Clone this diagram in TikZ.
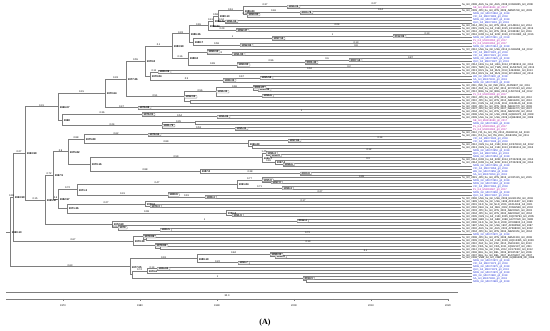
\documentclass[tikz,border=0pt]{standalone}
\usepackage{fontspec}
\setmainfont{Liberation Sans}
\newfontfamily\serifA{Liberation Serif}
\usetikzlibrary{calc}
\pgfdeclarelayer{fg}
\pgfsetlayers{main,fg}
\definecolor{brc}{HTML}{7E7E7E}
\definecolor{tipb}{HTML}{2233D6}
\definecolor{tipp}{HTML}{B01CA8}
\tikzset{
 br/.style={draw=brc, line width=0.7pt},
 pp/.style={font=\fontsize{2.5}{2.7}\selectfont, inner sep=0.2pt, anchor=south, text=black},
 dbox/.style={draw=brc, fill=white, line width=0.4pt, rounded corners=0.5pt, font=\fontsize{2.7}{2.9}\selectfont\bfseries, inner xsep=1.5pt, inner ysep=0.3pt, anchor=west, text=black},
 dtx/.style={font=\fontsize{2.7}{2.9}\selectfont\bfseries, inner sep=0.3pt, anchor=west, xshift=1.3pt, yshift=-0.6pt, text=black},
 dno/.style={inner sep=0pt},
 tipk/.style={font=\fontsize{2.6}{2.8}\selectfont, anchor=west, inner sep=0.3pt, xshift=0.6pt, text=black},
 tipl/.style={font=\fontsize{2.6}{2.8}\selectfont, anchor=west, inner sep=0.3pt, xshift=0.6pt},
 axl/.style={font=\fontsize{2.5}{2.7}\selectfont, text=black}
}
\newcommand\TN[8]{%
  \path let \p1=($(#3)!0.5!(#4)$) in coordinate (#1) at (#2pt,\y1);
  \draw[br] (#1) |- node[pp,pos=0.75]{#5} (#3);
  \draw[br] (#1) |- node[pp,pos=0.75]{#6} (#4);
  \begin{pgfonlayer}{fg}\node[#7] at (#1) {#8};\end{pgfonlayer}%
}
\newcommand\TK[4]{%
  \coordinate (t#1) at (461,{5+2.98*(#1-1)});
  \node[tipk] at (t#1) {hu\_GII\_#2\_#3\_hu\_GII\_#3\_#2\_#4\_GII\_#2};%
}
\newcommand\TB[5]{%
  \coordinate (t#1) at (472,{5+2.98*(#1-1)});
  \node[tipl,text=#2] at (t#1) {#3\_GII\_#4\_gII\_#5};%
}
\begin{document}
\begin{tikzpicture}[x=1pt,y=-1pt]
\useasboundingbox (0,0) rectangle (550,331);
% ---------- tips ----------
\TK{1}{2008}{AUS}{KX689455}
\TB{2}{tipp}{SE}{MH218644}{2017}
\TK{3}{2009}{JPN}{AB585740}
\TB{4}{tipb}{NSW}{MK073894}{2018}
\TB{5}{tipb}{VIC}{MK073895}{2018}
\TB{6}{tipb}{NSW}{MK073897}{2018}
\TB{7}{tipb}{QLD}{MK073901}{2018}
\TK{8}{2014}{JPN}{LC145814}
\TK{9}{2015}{CHN}{KX119361}
\TK{10}{2016}{JPN}{LC185382}
\TK{11}{2016}{KOR}{KY210980}
\TB{12}{tipb}{NSW}{MK073911}{2018}
\TB{13}{tipp}{PL}{MH218650}{2017}
\TB{14}{tipp}{PL}{MH218652}{2017}
\TB{15}{tipb}{NSW}{MK073914}{2018}
\TK{16}{2012}{USA}{KJ196298}
\TB{17}{tipb}{VIC}{MK073920}{2018}
\TB{18}{tipb}{VIC}{MK073921}{2018}
\TB{19}{tipb}{NSW}{MK073925}{2018}
\TB{20}{tipb}{QLD}{MK073927}{2018}
\TK{21}{2014}{HKG}{KT380915}
\TK{22}{2015}{TWN}{KU557823}
\TK{23}{2013}{RUS}{KJ645691}
\TK{24}{2014}{RUS}{KP128542}
\TB{25}{tipb}{WA}{MK073930}{2018}
\TB{26}{tipb}{SA}{MK073931}{2018}
\TB{27}{tipb}{NSW}{MK073933}{2018}
\TK{28}{2011}{IND}{JX459907}
\TK{29}{2012}{ZAF}{KF767243}
\TK{30}{2012}{BRA}{KJ507419}
\TB{31}{tipp}{PL}{MH218655}{2017}
\TK{32}{2010}{JPN}{AB818400}
\TK{33}{2010}{JPN}{AB818401}
\TK{34}{2011}{CHN}{JX445146}
\TK{35}{2006}{JPN}{AB434770}
\TK{36}{2007}{JPN}{AB434771}
\TK{37}{2004}{JPN}{AB290150}
\TK{38}{2008}{USA}{GQ845370}
\TK{39}{2009}{USA}{HQ664990}
\TB{40}{tipp}{SE}{MH218660}{2017}
\TB{41}{tipb}{NSW}{MK073940}{2018}
\TB{42}{tipp}{PL}{MH218662}{2017}
\TB{43}{tipp}{PL}{MH218663}{2017}
\TK{44}{2010}{ITA}{JN183158}
\TK{45}{2011}{ITA}{JN183159}
\TB{46}{tipb}{VIC}{MK073945}{2018}
\TB{47}{tipb}{VIC}{MK073946}{2018}
\TK{48}{2012}{CHN}{KC576910}
\TK{49}{2013}{CHN}{KF306212}
\TB{50}{tipb}{NSW}{MK073950}{2018}
\TB{51}{tipb}{QLD}{MK073951}{2018}
\TB{52}{tipb}{NSW}{MK073953}{2018}
\TK{53}{2014}{KOR}{KT222938}
\TK{54}{2014}{KOR}{KT222939}
\TB{55}{tipb}{NSW}{MK073955}{2018}
\TB{56}{tipb}{VIC}{MK073956}{2018}
\TB{57}{tipb}{WA}{MK073958}{2018}
\TB{58}{tipb}{SA}{MK073959}{2018}
\TK{59}{2015}{JPN}{LC037415}
\TB{60}{tipb}{NSW}{MK073961}{2018}
\TB{61}{tipb}{NSW}{MK073962}{2018}
\TB{62}{tipb}{VIC}{MK073964}{2018}
\TB{63}{tipp}{PL}{MH218667}{2017}
\TB{64}{tipb}{NSW}{MK073966}{2018}
\TB{65}{tipb}{QLD}{MK073967}{2018}
\TK{66}{2006}{USA}{EU921353}
\TK{67}{1999}{USA}{AF414407}
\TK{68}{2001}{NLD}{AF414418}
\TK{69}{2002}{DEU}{AY682548}
\TK{70}{2003}{JPN}{AB220921}
\TK{71}{2004}{JPN}{AB220922}
\TK{72}{2005}{CHN}{DQ078794}
\TK{73}{1998}{GBR}{AJ277620}
\TK{74}{2000}{NLD}{AY038600}
\TK{75}{1997}{USA}{AF080558}
\TK{76}{2002}{AUS}{AY588030}
\TK{77}{2004}{JPN}{AB290151}
\TB{78}{tipb}{NSW}{MK073970}{2018}
\TK{79}{2008}{JPN}{AB541319}
\TK{80}{2009}{CHN}{HQ113385}
\TK{81}{2010}{ZAF}{JN191360}
\TK{82}{2011}{FRA}{JQ622197}
\TK{83}{2012}{FRA}{KC175323}
\TK{84}{2006}{BEL}{EF187497}
\TK{85}{2007}{BEL}{EU078407}
\TK{86}{2008}{VNM}{GQ856469}
\TB{87}{tipb}{NSW}{MK073972}{2018}
\TB{88}{tipb}{VIC}{MK073973}{2018}
\TB{89}{tipb}{NSW}{MK073975}{2018}
\TB{90}{tipb}{QLD}{MK073976}{2018}
\TB{91}{tipb}{NSW}{MK073978}{2018}
\TB{92}{tipb}{WA}{MK073980}{2018}
\TB{93}{tipb}{SA}{MK073981}{2018}
\TB{94}{tipb}{NSW}{MK073983}{2018}
% ---------- group 1 ----------
\TN{a1}{287}{t1}{t2}{0.27}{}{dbox}{1999.09}
\TN{a2}{300}{t3}{t4}{0.14}{}{dbox}{2000.78}
\TN{a3}{247}{a2}{t5}{0.46}{}{dbox}{1993.90}
\TN{a4}{243}{a1}{a3}{0.37}{0.14}{dtx}{1986.83}
\TN{a5}{225}{t6}{t7}{}{}{dbox}{1991.04}
\TN{a6}{218}{a4}{a5}{0.61}{0.04}{dtx}{1990.13}
\TN{a7}{213}{a6}{t8}{0.58}{0.04}{dtx}{1989.74}
\TN{a8}{236}{t9}{t10}{}{}{dbox}{1992.47}
\TN{a9}{208}{a7}{a8}{0.41}{0.29}{dtx}{1988.84}
\TN{b1}{393}{t11}{t12}{0.13}{}{dbox}{2012.86}
\TN{b2}{272}{b1}{t13}{1}{}{dbox}{1997.14}
\TN{b3}{240}{t14}{t15}{0.13}{0.8}{dbox}{1992.84}
\TN{b4}{193}{b2}{b3}{1}{0.58}{dtx}{1988.7}
\TN{c0}{189}{a9}{b4}{0.65}{}{dtx}{1986.36}
\TN{d1}{232}{t17}{t18}{}{}{dbox}{1991.95}
\TN{d2}{207}{t16}{d1}{}{0.13}{dbox}{1990.13}
\TN{d3}{349}{t19}{t20}{0.87}{}{dbox}{2007.14}
\TN{d4}{305}{d3}{t21}{0.6}{}{dbox}{2001.43}
\TN{d5}{237}{d4}{t22}{0.96}{0.2}{dbox}{1993.93}
\TN{d6}{188}{d2}{d5}{}{0.99}{dtx}{1988.8}
\TN{e0}{172}{c0}{d6}{0.33}{0.16}{dtx}{1983.99}
\TN{f1}{158}{t23}{t24}{0.52}{}{dbox}{1983.09}
\TN{f2}{260}{t25}{t26}{}{}{dbox}{1995.58}
\TN{f3}{223}{f2}{t27}{0.67}{}{dbox}{1989.33}
\TN{f4}{150}{f1}{f3}{0.11}{0.5}{dtx}{1979.84}
\TN{g0}{145}{e0}{f4}{0.1}{}{dtx}{1979.8}
% ---------- group 2 ----------
\TN{h1}{258}{t29}{t30}{}{}{dbox}{1995.32}
\TN{h2}{253}{t28}{h1}{}{}{dbox}{2001.27}
\TN{h5}{262}{t31}{t32}{}{}{dbox}{1996.6}
\TN{h3}{216}{h2}{h5}{0.96}{}{dbox}{1996.33}
\TN{h6}{190}{t33}{t34}{}{}{dno}{}
\TN{h7}{184}{h3}{h6}{0.56}{}{dbox}{1992.04}
\TN{i1}{138}{t35}{t36}{}{}{dbox}{1976.88}
\TN{j0}{126}{g0}{h7}{0.55}{0.51}{dtx}{1977.26}
\TN{k0}{105}{j0}{i1}{0.33}{0.47}{dtx}{1970.64}
% ---------- group 3 ----------
\TN{l1}{217}{t38}{t39}{}{}{dbox}{1996.86}
\TN{l2}{142}{t37}{l1}{1}{0.54}{dbox}{1976.01}
\TN{l3}{195}{t40}{t41}{}{}{dno}{}
\TN{l4}{235}{t42}{t43}{}{}{dbox}{1995.31}
\TN{l5}{162}{l3}{l4}{0.35}{0.53}{dbox}{1981.79}
\TN{m0}{62}{l2}{l5}{0.36}{0.24}{dtx}{1968}
\TN{n0}{58}{k0}{m0}{0.15}{}{dtx}{1966.07}
% ---------- group 4 ----------
\TN{o1}{148}{t44}{t45}{}{}{dbox}{1978.94}
\TN{o2}{288}{t46}{t47}{0.14}{}{dbox}{1997.84}
\TN{o3}{252}{t48}{t49}{}{}{dno}{}
\TN{o4}{248}{o2}{o3}{}{}{dtx}{1996.89}
\TN{o5}{84}{o1}{o4}{0.62}{0.89}{dtx}{1975.89}
\TN{p1}{270}{t51}{t52}{}{}{dbox}{1996.9}
\TN{p2}{266}{t50}{p1}{0.12}{}{dbox}{1996.4}
\TN{p3}{283}{t54}{t55}{}{}{dbox}{1998.6}
\TN{p4}{275}{t53}{p3}{0.3}{}{dtx}{1997.4}
\TN{p5}{262}{p2}{p4}{1.45}{0.65}{dtx}{1996.7}
\TN{p6}{300}{t57}{t58}{}{}{dbox}{2000.8}
\TN{p7}{200}{t56}{p6}{}{0.38}{dtx}{1987.8}
\TN{p8}{90}{p5}{p7}{0.59}{0.88}{dtx}{1979.16}
\TN{q0}{68}{o5}{p8}{0.88}{}{dtx}{1975.82}
\TN{r1}{271}{t60}{t61}{}{}{dbox}{1997.0}
\TN{r2}{262}{t59}{r1}{0.38}{}{dbox}{1995.8}
\TN{r3}{282}{t62}{t63}{}{}{dbox}{1998.4}
\TN{r4}{237}{r2}{r3}{0.77}{0.71}{dtx}{1991.84}
\TN{r5}{205}{t65}{t66}{}{}{dbox}{1988.4}
\TN{r6}{168}{t64}{r5}{0.27}{0.91}{dbox}{1983.6}
\TN{r7}{77}{r4}{r6}{0.47}{0.31}{dtx}{1971.3}
\TN{s1}{150}{t68}{t69}{}{}{dbox}{1979.3}
\TN{s2}{145}{t67}{s1}{0.17}{}{dtx}{1979.6}
\TN{s3}{232}{t71}{t72}{}{}{dbox}{1991.9}
\TN{s4}{226}{t70}{s3}{}{}{dtx}{1991.2}
\TN{s5}{67}{s2}{s4}{0.27}{0.08}{dtx}{1971.36}
\TN{u0}{58}{r7}{s5}{0.72}{}{dtx}{1982.97}
\TN{v0}{53}{q0}{u0}{0.9}{0.6}{dtx}{1967.5}
\TN{w1}{297}{t73}{t74}{}{}{dbox}{2012.4}
\TN{w2}{160}{t76}{t77}{}{}{dbox}{1983.5}
\TN{w3}{118}{t75}{w2}{}{}{dbox}{1979}
\TN{w4}{112}{w1}{w3}{1}{0.03}{dtx}{1972.69}
\TN{x0}{45}{v0}{w4}{0.72}{}{dtx}{1965.97}
\TN{y0}{25}{n0}{x0}{0.31}{0.15}{dtx}{1963.99}
% ---------- group 5 ----------
\TN{z1}{146}{t79}{t80}{}{}{dno}{}
\TN{z2}{143}{t78}{z1}{0.72}{}{dbox}{1979.86}
\TN{z3}{160}{t82}{t83}{}{}{dno}{}
\TN{z4}{155}{t81}{z3}{0.13}{}{dbox}{1979.84}
\TN{z5}{133}{z2}{z4}{}{}{dtx}{1979.38}
\TN{U0}{13}{y0}{z5}{0.27}{0.67}{dtx}{1963.99}
% ---------- group 6 ----------
\TN{L1}{275}{t85}{t86}{}{}{dbox}{1998.9}
\TN{L2}{270}{t84}{L1}{0.1}{}{dbox}{1998.33}
\TN{L3}{238}{t87}{t88}{}{}{dbox}{1993.7}
\TN{L4}{197}{L2}{L3}{0.84}{0.22}{dtx}{1989.19}
\TN{L5}{157}{t89}{t90}{}{}{dbox}{1984.83}
\TN{L6}{147}{L5}{t91}{0.14}{}{dtx}{1979.6}
\TN{L7}{306}{t93}{t94}{}{}{dno}{}
\TN{L8}{303}{t92}{L7}{}{}{dbox}{2014.1}
\TN{L9}{132}{L6}{L8}{0.74}{1}{dno}{}
\TN{L10}{130}{L4}{L9}{0.18}{}{dtx}{1977.05}
\TN{R0}{10}{U0}{L10}{0.98}{0.63}{dtx}{1960.13}
\coordinate (rootstub) at ($(R0)+(-4,0)$);
\draw[br] (R0) -- (rootstub);
% ---------- scale ----------
\coordinate (sb1) at (6,292); \coordinate (sb2) at (458,292);
\draw[brc, line width=0.9pt] (sb1) -- (sb2);
\node[axl] (sbl) at (227,295.6) {30.0};
\coordinate (ax1) at (6,299); \coordinate (ax2) at (448,299);
\draw[brc, line width=0.7pt] (ax1) -- (ax2);
\foreach \xx/\yy in {63/1970,140/1980,217/1990,294/2000,371/2010,448/2020}{
  \draw[brc, line width=0.5pt] (\xx,299) -- (\xx,300.8);
  \node[axl] at (\xx,305.6) {\yy};
}
\foreach \xx in {25,102,179,256,333,409}{
  \draw[brc, line width=0.5pt] (\xx,299) -- (\xx,300.2);
}
\node[font=\serifA\bfseries\fontsize{8}{9}\selectfont] (cap) at (265,323) {(A)};
\end{tikzpicture}
\end{document}
